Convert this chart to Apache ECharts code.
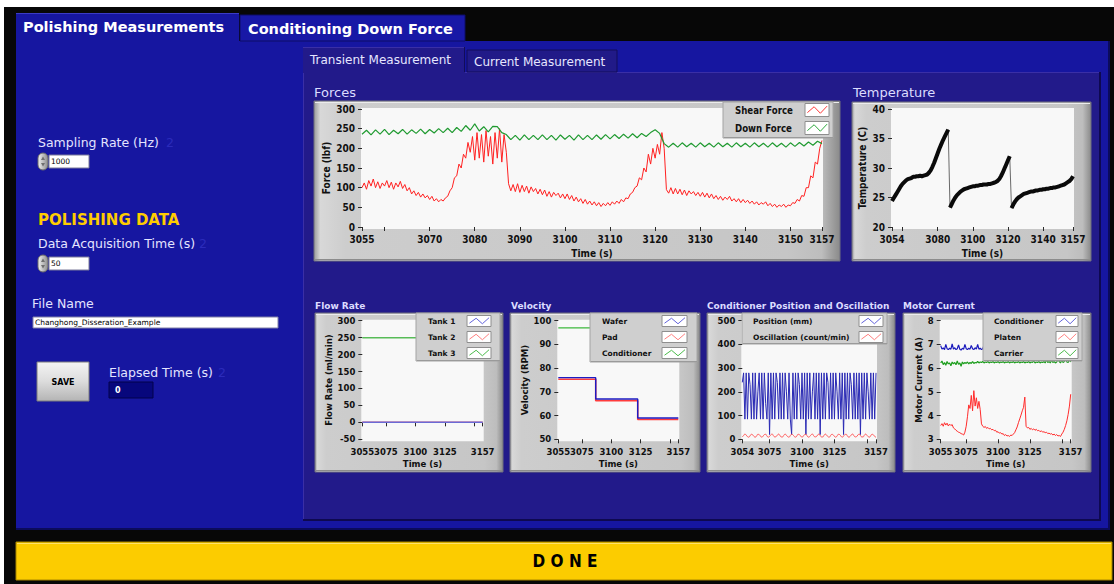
<!DOCTYPE html>
<html>
<head>
<meta charset="utf-8">
<title>Polishing Measurements</title>
<script src="https://cdn.jsdelivr.net/npm/echarts@6/dist/echarts.min.js"></script>
<style>
  html, body { margin: 0; padding: 0; background: #ffffff; }
  #panel { width: 1114px; height: 584px; }
</style>
</head>
<body>
<div id="panel"></div>
<script>
// ---------- Forces (sampled every 0.5 s / 1 s) ----------
const shearStart = 3055, shearStep = 0.5;
const shearForce = [
  100,112,96,118,104,122,100,115,98,112,
  104,118,100,114,96,112,102,116,98,108,
  92,100,84,92,80,88,76,84,74,80,
  70,78,66,72,64,70,66,74,78,92,
  100,125,130,160,150,185,175,215,190,230,
  170,240,175,235,165,245,180,230,160,240,
  175,250,165,235,190,110,92,108,90,110,
  88,106,90,104,86,102,90,98,84,96,
  82,94,78,90,76,88,80,86,74,84,
  72,84,70,80,66,76,64,72,60,70,
  58,66,56,64,54,62,52,60,54,62,
  55,64,58,66,60,70,64,74,72,84,
  88,100,104,125,120,150,140,185,160,200,
  175,210,185,240,200,95,86,100,84,98,
  84,96,82,94,80,92,84,90,80,88,
  78,88,76,86,74,84,72,80,70,78,
  68,76,70,78,66,72,64,72,62,70,
  62,68,60,66,58,64,56,62,58,64,
  54,60,52,58,50,56,52,58,50,56,
  54,62,60,70,66,80,78,100,100,130,
  125,165,160,200,220
];
const downStart = 3055, downStep = 1;
const downForce = [
  236,246,234,247,236,248,235,246,237,248,
  236,247,238,249,237,248,239,250,240,251,
  240,253,243,258,246,262,244,255,242,256,
  255,240,235,222,233,221,234,222,233,222,
  234,222,233,221,234,223,233,221,234,222,
  233,222,234,223,235,224,235,225,236,226,
  237,227,238,230,240,247,238,212,203,213,
  203,214,204,213,203,214,204,213,203,214,
  204,213,203,214,204,213,203,214,204,213,
  203,214,204,213,203,214,205,215,206,216,
  208,218,212
];
const forcesTicks  = [3055,3060,3070,3080,3090,3100,3110,3120,3130,3140,3150,3157];
const forcesLabels = [3055,3070,3080,3090,3100,3110,3120,3130,3140,3150,3157];

// ---------- Temperature (1 s) ----------
const tempStart = 3054, tempStep = 1;
const temperature = [
  24.4,24.9,25.4,25.9,26.4,26.9,27.3,27.6,27.9,28.1,
  28.2,28.3,28.5,28.5,28.6,28.6,28.7,28.6,28.7,28.8,
  28.9,29.2,29.6,30.2,30.9,31.7,32.5,33.3,34.0,34.7,
  35.3,35.9,36.5,
  23.3,23.9,24.5,25.0,25.4,25.7,26.0,26.2,26.4,26.5,
  26.6,26.7,26.8,26.9,26.9,27.0,27.0,27.1,27.1,27.2,
  27.2,27.2,27.3,27.3,27.4,27.5,27.6,27.8,28.1,28.6,
  29.2,29.9,30.6,31.3,32.0,
  23.2,23.8,24.3,24.7,25.0,25.2,25.4,25.6,25.7,25.8,
  25.9,26.0,26.0,26.1,26.2,26.2,26.3,26.3,26.4,26.4,
  26.5,26.5,26.6,26.6,26.7,26.7,26.8,26.9,27.0,27.1,
  27.2,27.4,27.6,27.8,28.1,28.6
];
const tempTicks  = [3054,3060,3080,3100,3120,3140,3157];
const tempLabels = [3054,3080,3100,3120,3140,3157];

// ---------- Flow rate ----------
const flowTime = [3055, 3157];
const tank1 = [0, 0];
const tank2 = [0, 0];
const tank3 = [250, 250];

// ---------- Velocity (set-point changes) ----------
const velTime = [3055, 3086.8, 3122.5, 3157];
const waferRpm = [76, 67, 59, 59];
const padRpm = [75.3, 66.3, 58.4, 58.4];
const conditionerRpm = [97, 97, 97, 97];

const smallTicks  = [3055,3075,3100,3125,3150,3157];
const smallLabels = [3055,3075,3100,3125,3157];

// ---------- Conditioner position / oscillation (1 s) ----------
const posStart = 3054, posStep = 1;
const position = [
  240,280,85,280,85,280,230,85,280,85,
  280,85,200,280,85,280,85,280,150,85,
  280,20,280,85,280,85,280,240,85,280,
  85,280,85,280,200,85,280,85,20,280,
  85,280,85,280,230,85,280,85,280,20,
  280,85,280,85,200,280,85,280,85,280,
  20,280,85,280,85,280,240,85,280,85,
  280,85,280,200,85,280,85,280,20,280,
  85,280,85,280,230,85,280,85,280,85,
  280,20,280,85,280,85,280,200,85,280,
  85,280,85,280
];
const oscillation = [
  10,16,22,18,11,9,15,21,19,12,
  9,14,21,20,13,9,13,20,21,14,
  9,12,19,22,15,10,11,18,22,16,
  10,10,17,22,17,11,9,16,21,19,
  12,9,14,21,20,13,9,13,20,21,
  14,9,12,19,22,15,10,11,18,22,
  16,10,10,17,22,17,11,9,16,21,
  19,12,9,14,21,20,13,9,13,20,
  21,14,9,12,19,22,15,10,11,18,
  22,16,10,10,17,22,17,11,9,16,
  21,19,12,9
];
const posTicks  = [3054,3075,3100,3125,3150,3157];
const posLabels = [3054,3075,3100,3125,3157];

// ---------- Motor current (1 s) ----------
const motorStart = 3055, motorStep = 1;
const conditionerAmps = [
  6.95,6.80,6.85,6.78,7.00,6.82,6.78,6.84,6.80,7.02,
  6.80,6.86,6.78,6.82,6.98,6.80,6.76,6.84,6.80,7.00,
  6.82,6.78,6.84,6.80,6.96,6.82,6.78,6.86,6.80,7.00,
  6.80,6.84,6.78,6.82,6.98,6.80,6.84,6.78,6.82,7.00,
  6.82,6.78,6.84,6.80,6.98,6.82,6.78,6.84,6.80,7.00,
  6.80,6.84,6.78,6.82,6.96,6.80,6.78,6.84,6.82,7.00,
  6.82,6.78,6.84,6.80,6.98,6.82,6.78,6.84,6.80,7.00,
  6.80,6.84,6.78,6.82,6.96,6.80,6.84,6.78,6.82,7.00,
  6.82,6.78,6.84,6.80,6.98,6.82,6.78,6.84,6.80,7.00,
  6.80,6.84,6.78,6.82,6.96,6.80,6.78,6.84,6.82,7.00,
  6.82,6.78,6.84
];
const platenAmps = [
  3.58,3.66,3.55,3.70,3.60,3.68,3.56,3.64,3.58,3.62,
  3.48,3.44,3.38,3.34,3.30,3.28,3.24,3.22,3.18,3.30,
  3.55,3.95,4.45,4.30,4.85,4.20,5.05,4.40,4.75,4.30,
  4.60,4.25,3.65,3.55,3.50,3.54,3.46,3.50,3.44,3.46,
  3.40,3.42,3.36,3.38,3.30,3.32,3.26,3.28,3.22,3.24,
  3.16,3.20,3.14,3.16,3.12,3.18,3.16,3.22,3.28,3.40,
  3.52,3.70,3.86,4.02,4.20,4.35,4.78,3.55,3.48,3.50,
  3.42,3.46,3.40,3.44,3.38,3.42,3.36,3.38,3.32,3.36,
  3.30,3.32,3.28,3.30,3.24,3.26,3.22,3.24,3.18,3.22,
  3.16,3.20,3.14,3.16,3.12,3.22,3.30,3.42,3.58,3.78,
  4.05,4.40,4.90
];
const carrierAmps = [
  6.22,6.30,6.15,6.24,6.12,6.28,6.18,6.22,6.10,6.26,
  6.18,6.24,6.14,6.30,6.16,6.22,6.08,6.26,6.18,6.24,
  6.20,6.26,6.18,6.24,6.20,6.28,6.20,6.24,6.22,6.28,
  6.22,6.26,6.24,6.28,6.22,6.26,6.24,6.28,6.22,6.26,
  6.24,6.28,6.22,6.26,6.24,6.28,6.22,6.26,6.24,6.28,
  6.22,6.26,6.24,6.28,6.22,6.26,6.24,6.28,6.22,6.26,
  6.24,6.28,6.22,6.26,6.24,6.28,6.22,6.26,6.24,6.28,
  6.22,6.26,6.24,6.30,6.22,6.26,6.24,6.28,6.22,6.26,
  6.24,6.28,6.22,6.36,6.24,6.28,6.22,6.34,6.24,6.28,
  6.22,6.26,6.36,6.28,6.22,6.34,6.24,6.28,6.38,6.26,
  6.24,6.36,6.26
];

// ---------- helpers ----------
const SANS = '"DejaVu Sans"', COND = '"DejaVu Sans Condensed"';
const TITLE_CLR = '#dcdcff';

const sampled = (start, step, values) => values.map((v, i) => [start + i * step, v]);
const paired = (times, values) => times.map((t, i) => [t, values[i]]);

// split a trace wherever it jumps by more than `gap` so a wide stroke breaks there
function breakAtJumps(points, gap) {
  const out = [];
  points.forEach((p, i) => {
    if (i > 0 && Math.abs(p[1] - points[i - 1][1]) > gap) out.push([p[0], null]);
    out.push(p);
  });
  return out;
}

const g = [];
function rect(x, y, w, h, style, z, r) {
  const shape = { x, y, width: w, height: h };
  if (r) shape.r = r;
  g.push({ type: 'rect', silent: true, z: z, shape, style });
}
function text(x, y, str, font, fill, align, z) {
  g.push({ type: 'text', silent: true, z: z == null ? 40 : z, x, y,
    style: { text: str, font, fill, textAlign: align || 'left', textVerticalAlign: 'middle' } });
}
function poly(points, stroke, width, z) {
  g.push({ type: 'polyline', silent: true, z, shape: { points }, style: { stroke, lineWidth: width, fill: null } });
}
const lin = (x2, y2, stops) => ({ type: 'linear', x: 0, y: 0, x2, y2,
  colorStops: stops.map(s => ({ offset: s[0], color: s[1] })) });

// ---------- window chrome ----------
rect(0, 0, 1114, 584, { fill: '#ffffff' }, -100);
rect(4, 7, 1110, 577, { fill: '#070707' }, -99);

// outer tab control
rect(16, 41, 1094, 489, { fill: '#1616a0' }, -98);
rect(16, 528, 1094, 2, { fill: '#0b0b5c' }, -97);
rect(1108, 41, 2, 489, { fill: '#0b0b5c' }, -97);
rect(16, 13, 223, 30, { fill: '#1616a0' }, -97);
rect(16, 13, 223, 1, { fill: '#3b3bc6' }, -96);
rect(240, 15, 225, 26, { fill: '#1818a6', stroke: '#0c0c66', lineWidth: 1 }, -97);
text(23, 27, 'Polishing Measurements', 'bold 14.5px ' + SANS, '#ffffff', 'left');
text(248, 28.5, 'Conditioning Down Force', 'bold 14.5px ' + SANS, '#ffffff', 'left');

// inner tab control
rect(303, 72, 798, 449, { fill: '#221a8a' }, -95);
rect(303, 72, 798, 1, { fill: '#3a2fa6' }, -94);
rect(303, 72, 1, 449, { fill: '#3a2fa6' }, -94);
rect(303, 519, 798, 2, { fill: '#0e0950' }, -94);
rect(1099, 72, 2, 449, { fill: '#0e0950' }, -94);
rect(303, 47, 162, 26, { fill: '#221a8a' }, -94);
rect(303, 47, 162, 1, { fill: '#3a2fa6' }, -93);
rect(464, 47, 1, 25, { fill: '#120c5a' }, -93);
rect(467, 50, 150, 22, { fill: '#211a88', stroke: '#120c5a', lineWidth: 1 }, -94);
text(310, 59.5, 'Transient Measurement', '12px ' + SANS, '#e6e6ff', 'left');
text(474, 61.5, 'Current Measurement', '12px ' + SANS, '#e6e6ff', 'left');

// ---------- left-hand controls ----------
function numericControl(y, value) {
  rect(38, y, 10, 17, { fill: lin(1, 0, [[0, '#f2f2f2'], [1, '#8c8c8c']]), stroke: '#6a6a6a', lineWidth: 1 }, 5, 5);
  g.push({ type: 'polygon', silent: true, z: 6, shape: { points: [[41, y + 7], [43, y + 3.5], [45, y + 7]] }, style: { fill: '#707070' } });
  g.push({ type: 'polygon', silent: true, z: 6, shape: { points: [[41, y + 10], [43, y + 13.5], [45, y + 10]] }, style: { fill: '#707070' } });
  rect(49, y + 2, 40, 13, { fill: '#ffffff', stroke: '#7a7a9a', lineWidth: 1 }, 5);
  text(51, y + 8.5, value, '7.5px ' + SANS, '#000000', 'left');
}
text(38, 142, 'Sampling Rate (Hz)', '12.5px ' + SANS, '#e4e4ff', 'left');
text(166, 142, '2', '12.5px ' + SANS, '#2b2bba', 'left');
numericControl(153, '1000');

text(38, 220, 'POLISHING DATA', 'bold 15px ' + SANS, '#ffcc00', 'left');
text(38, 243, 'Data Acquisition Time (s)', '12.5px ' + SANS, '#e4e4ff', 'left');
text(199, 243, '2', '12.5px ' + SANS, '#2b2bba', 'left');
numericControl(255, '50');

text(32, 303, 'File Name', '12.5px ' + SANS, '#e4e4ff', 'left');
rect(33, 317, 245, 11, { fill: '#ffffff', stroke: '#8080a8', lineWidth: 1 }, 5);
text(35, 322.5, 'Changhong_Disseration_Example', '7.5px ' + SANS, '#000000', 'left');

rect(37, 362, 52, 39, { fill: lin(0, 1, [[0, '#f4f4f4'], [0.5, '#dcdcdc'], [1, '#b4b4b4']]), stroke: '#7c7c7c', lineWidth: 1 }, 5);
text(63, 382, 'SAVE', 'bold 8px ' + SANS, '#000000', 'center');
text(109, 372, 'Elapsed Time (s)', '12.5px ' + SANS, '#e4e4ff', 'left');
text(218, 372, '2', '12.5px ' + SANS, '#2b2bba', 'left');
rect(109, 382, 44, 16, { fill: '#07077c', stroke: '#03034a', lineWidth: 1 }, 5);
text(115, 390, '0', 'bold 8px ' + SANS, '#ffffff', 'left');

// DONE button
rect(16, 542, 1096, 38, { fill: '#fccc00', stroke: '#a88600', lineWidth: 1 }, -90);
rect(17, 543, 1094, 1, { fill: '#ffe26a' }, -89);
text(565, 561, 'D O N E', 'bold 17px ' + COND, '#000000', 'center');

// ---------- graph panels ----------
const charts = [
  { title: 'Forces', titleFont: '13px ' + SANS, tx: 314, ty: 92,
    frame: [314, 101, 526, 160], grid: [362, 109, 460, 118],
    x: [3055, 3157], y: [0, 300, 50], xTicks: forcesTicks, xLabels: forcesLabels,
    yName: 'Force (lbf)', yGap: 31, xGap: 21, big: true },
  { title: 'Temperature', titleFont: '13px ' + SANS, tx: 853, ty: 92,
    frame: [852, 102, 239, 159], grid: [892, 109, 181, 118],
    x: [3054, 3157], y: [20, 40, 5], xTicks: tempTicks, xLabels: tempLabels,
    yName: 'Temperature (C)', yGap: 25, xGap: 21, big: true },
  { title: 'Flow Rate', titleFont: 'bold 9px ' + SANS, tx: 315, ty: 306,
    frame: [315, 313, 188, 159], grid: [362.3, 320.7, 120.4, 118.6],
    x: [3055, 3157], y: [-50, 300, 50], xTicks: smallTicks, xLabels: smallLabels,
    yName: 'Flow Rate (ml/min)', yGap: 28, xGap: 19 },
  { title: 'Velocity', titleFont: 'bold 9px ' + SANS, tx: 511, ty: 306,
    frame: [510, 313, 190, 159], grid: [558.3, 320.7, 120, 118.6],
    x: [3055, 3157], y: [50, 100, 10], xTicks: smallTicks, xLabels: smallLabels,
    yName: 'Velocity (RPM)', yGap: 27, xGap: 19 },
  { title: 'Conditioner Position and Oscillation', titleFont: 'bold 9px ' + SANS, tx: 707, ty: 306,
    frame: [707, 313, 188, 159], grid: [742.3, 320.7, 133.7, 118.6],
    x: [3054, 3157], y: [0, 500, 100], xTicks: posTicks, xLabels: posLabels,
    yName: '', yGap: 0, xGap: 19 },
  { title: 'Motor Current', titleFont: 'bold 9px ' + SANS, tx: 903, ty: 306,
    frame: [903, 313, 188, 159], grid: [940.7, 320.7, 130, 118.6],
    x: [3055, 3157], y: [3, 8, 1], xTicks: smallTicks, xLabels: smallLabels,
    yName: 'Motor Current (A)', yGap: 17, xGap: 19 }
];

const legends = [
  { box: [723, 102, 110, 36], textX: 735, iconX: 805, iconW: 24, iconH: 13, font: 'bold 9.6px ' + COND,
    rows: [['Shear Force', '#ff3a3a', 110], ['Down Force', '#2eaa3e', 128]] },
  { box: [416, 313, 84, 48], textX: 428, iconX: 467, iconW: 24, iconH: 11, font: 'bold 7.5px ' + SANS,
    rows: [['Tank 1', '#6464dc', 321], ['Tank 2', '#ff8080', 337], ['Tank 3', '#4cbc4c', 353]] },
  { box: [590, 313, 107, 49], textX: 602, iconX: 662, iconW: 25, iconH: 11, font: 'bold 7.5px ' + SANS,
    rows: [['Wafer', '#6464dc', 321], ['Pad', '#ff8080', 337], ['Conditioner', '#4cbc4c', 353]] },
  { box: [742, 313, 145, 31], textX: 753, iconX: 859, iconW: 24, iconH: 11, font: 'bold 7.5px ' + SANS,
    rows: [['Position (mm)', '#6464dc', 321], ['Oscillation (count/min)', '#ff8080', 337]] },
  { box: [983, 313, 99, 48], textX: 994, iconX: 1056, iconW: 22, iconH: 11, font: 'bold 7.5px ' + SANS,
    rows: [['Conditioner', '#6464dc', 321], ['Platen', '#ff8080', 337], ['Carrier', '#4cbc4c', 353]] }
];

const grids = [], xAxes = [], yAxes = [];
charts.forEach((c, i) => {
  const [fx, fy, fw, fh] = c.frame;
  rect(fx, fy, fw, fh, {
    fill: lin(1, 0, [[0, '#9a9a9a'], [0.012, '#d8d8d8'], [0.06, '#cdcdcd'], [0.9, '#c6c6c6'], [0.965, '#bdbdbd'], [1, '#8a8a8a']]),
    stroke: '#6e6e7e', lineWidth: 1 }, -20);
  rect(fx + 1, fy + 1, fw - 2, 1, { fill: '#ececec' }, -19);
  rect(fx + 1, fy + fh - 2, fw - 2, 1, { fill: '#8c8c8c' }, -19);
  text(c.tx, c.ty, c.title, c.titleFont, TITLE_CLR, 'left');

  const [gl, gt, gw, gh] = c.grid;
  rect(gl - 1, gt - 1, gw + 2, gh + 3, { fill: '#f8f8f8' }, -10);

  const tickFont = c.big ? { fontFamily: COND, fontSize: 10 } : { fontFamily: SANS, fontSize: 8.5 };
  const nameFont = c.big ? { fontFamily: COND, fontSize: 10 } : { fontFamily: COND, fontSize: 9.5 };

  grids.push({ left: gl, top: gt, width: gw, height: gh, containLabel: false, outerBoundsMode: 'none', show: false });
  xAxes.push({
    type: 'value', gridIndex: i, min: c.x[0], max: c.x[1], position: 'bottom',
    axisLine: { show: false }, splitLine: { show: false },
    axisTick: { show: true, customValues: c.xTicks, length: 4, lineStyle: { color: '#2a2a2a', width: 1 } },
    axisLabel: { customValues: c.xLabels, formatter: v => String(v), color: '#101010', fontWeight: 'bold',
      margin: c.big ? 7 : 8, ...tickFont },
    name: 'Time (s)', nameLocation: 'middle', nameGap: c.xGap,
    nameTextStyle: { color: '#101010', fontWeight: 'bold', ...nameFont }
  });
  yAxes.push({
    type: 'value', gridIndex: i, min: c.y[0], max: c.y[1], interval: c.y[2], position: 'left',
    axisLine: { show: false }, splitLine: { show: false },
    axisTick: { show: true, length: 4, lineStyle: { color: '#2a2a2a', width: 1 } },
    axisLabel: { formatter: v => String(v), color: '#101010', fontWeight: 'bold', margin: 7, ...tickFont },
    name: c.yName, nameLocation: 'middle', nameGap: c.yGap, nameRotate: 90,
    nameTextStyle: { color: '#101010', fontWeight: 'bold', ...nameFont }
  });
});

legends.forEach(L => {
  const [bx, by, bw, bh] = L.box;
  rect(bx, by, bw, bh, { fill: '#cfcfcf', stroke: '#a4a4a4', lineWidth: 1 }, 60);
  rect(bx + 1, by + bh - 1, bw - 1, 1, { fill: '#9a9a9a' }, 61);
  L.rows.forEach(([label, color, cy]) => {
    text(L.textX, cy, label, L.font, '#111111', 'left', 62);
    const ix = L.iconX, iy = cy - L.iconH / 2, w = L.iconW, h = L.iconH;
    rect(ix, iy, w, h, { fill: '#ffffff', stroke: '#8e8e8e', lineWidth: 1 }, 62);
    poly([[ix + 0.1 * w, iy + 0.7 * h], [ix + 0.38 * w, iy + 0.25 * h], [ix + 0.64 * w, iy + 0.75 * h], [ix + 0.92 * w, iy + 0.2 * h]], color, 1, 63);
  });
});

// ---------- traces ----------
function line(name, idx, data, color, width, extra) {
  return Object.assign({
    type: 'line', name, xAxisIndex: idx, yAxisIndex: idx, data,
    showSymbol: false, symbol: 'none', silent: true, animation: false, clip: true,
    lineStyle: { color, width }, itemStyle: { color }
  }, extra || {});
}

const tempPoints = sampled(tempStart, tempStep, temperature);

const seriesList = [
  line('Shear Force', 0, sampled(shearStart, shearStep, shearForce), '#ff2020', 1),
  line('Down Force', 0, sampled(downStart, downStep, downForce), '#1f9a30', 1.2),

  line('Temperature', 1, tempPoints, '#6a6a6a', 1),
  line('Temperature band', 1, breakAtJumps(tempPoints, 5), '#0a0a0a', 4, { connectNulls: false }),

  line('Tank 3', 2, paired(flowTime, tank3), '#58bc58', 1.5),
  line('Tank 2', 2, paired(flowTime, tank2), '#ff7070', 1.5),
  line('Tank 1', 2, paired(flowTime, tank1), '#6a6ad6', 1.5),

  line('Conditioner', 3, paired(velTime, conditionerRpm), '#3cb83c', 1.2, { step: 'end' }),
  line('Pad', 3, paired(velTime, padRpm), '#ff3c3c', 1.6, { step: 'end' }),
  line('Wafer', 3, paired(velTime, waferRpm), '#1c1cc4', 1.4, { step: 'end' }),

  line('Position (mm)', 4, sampled(posStart, posStep, position), '#2a2ab4', 1),
  line('Oscillation (count/min)', 4, sampled(posStart, posStep, oscillation), '#ff5a5a', 1, { smooth: true }),

  line('Carrier', 5, sampled(motorStart, motorStep, carrierAmps), '#1e9e1e', 1.2),
  line('Conditioner', 5, sampled(motorStart, motorStep, conditionerAmps), '#1a1abc', 1.2),
  line('Platen', 5, sampled(motorStart, motorStep, platenAmps), '#ff2c2c', 1)
];

const chart = echarts.init(document.getElementById('panel'), null, { renderer: 'svg', width: 1114, height: 584 });
chart.setOption({
  animation: false,
  backgroundColor: '#ffffff',
  textStyle: { fontFamily: SANS },
  grid: grids,
  xAxis: xAxes,
  yAxis: yAxes,
  series: seriesList,
  graphic: { elements: g }
});
</script>
</body>
</html>
